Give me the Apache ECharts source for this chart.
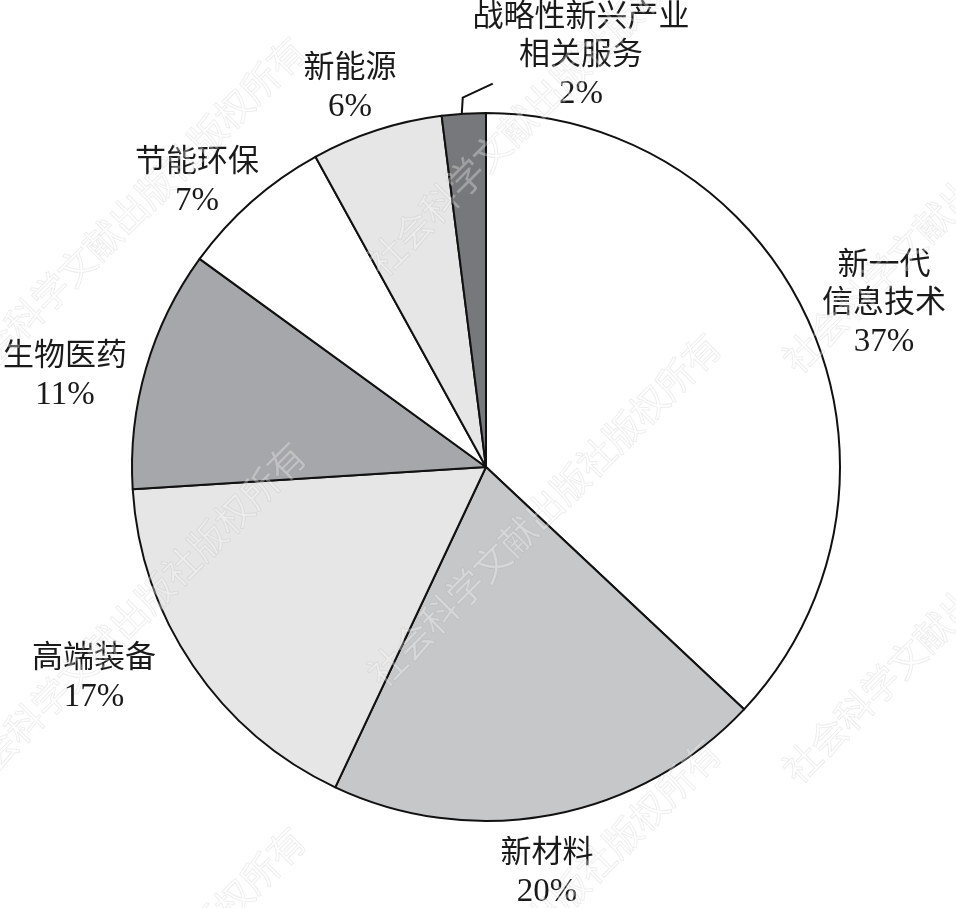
<!DOCTYPE html>
<html>
<head>
<meta charset="utf-8">
<script src="https://cdn.jsdelivr.net/npm/echarts@6/dist/echarts.min.js"></script>
<style>
  html, body { margin: 0; padding: 0; background: #fff; }
  #main { width: 956px; height: 908px; }
</style>
</head>
<body>
<div id="main"></div>
<script>
// 各产业占比（%）
const names = ['新一代\n信息技术', '新材料', '高端装备', '生物医药', '节能环保', '新能源', '战略性新兴产业\n相关服务']
const values = [37, 20, 17, 11, 7, 6, 2]
const colors = ['#ffffff', '#c6c7c9', '#e6e6e7', '#a6a7aa', '#ffffff', '#e6e6e7', '#77787b']

// 标签中心位置（版式）
const labelPos = [[884, 304], [547, 873], [94, 678], [65, 376], [197, 182], [350, 88], [581, 56]]

// 水印起点
const markPos = [[-25, 400], [-25, 805], [-25, 1190], [390, 285], [390, 696], [390, 1102], [805, -28], [805, 382], [805, 792]]

const font = '"Liberation Serif", "Noto Sans CJK SC", serif'

const myChart = echarts.init(document.getElementById('main'))

myChart.setOption({
  animation: false,
  backgroundColor: '#fff',
  graphic: markPos.map(p => ({
    type: 'text',
    x: p[0],
    y: p[1],
    rotation: Math.PI / 4,
    z: 100,
    silent: true,
    style: {
      text: '社会科学文献出版社版权所有',
      fontSize: 37,
      fontFamily: font,
      fill: 'rgba(255,255,255,0.3)',
      stroke: 'rgba(120,120,120,0.15)',
      lineWidth: 1,
      align: 'left',
      verticalAlign: 'bottom'
    }
  })),
  series: [
    {
      type: 'pie',
      center: [486, 467],
      radius: 354,
      startAngle: 90,
      clockwise: true,
      data: values.map((v, i) => ({
        name: names[i],
        value: v,
        itemStyle: { color: colors[i] },
        labelLine: { show: i === 6 }
      })),
      itemStyle: { borderColor: '#111', borderWidth: 2 },
      label: {
        position: 'outside',
        formatter: '{b}\n{p|{c}%}',
        fontFamily: font,
        fontSize: 31,
        lineHeight: 38,
        color: '#1a1a1a',
        align: 'center',
        overflow: 'none',
        width: 300,
        rich: {
          p: { fontFamily: font, fontSize: 33, lineHeight: 38, color: '#1a1a1a' }
        }
      },
      labelLine: {
        length: 14,
        length2: 30,
        lineStyle: { color: '#111', width: 2 }
      },
      labelLayout: params => {
        const p = labelPos[params.dataIndex]
        const out = { x: p[0], y: p[1], align: 'center', verticalAlign: 'middle' }
        if (params.dataIndex === 6 && params.labelLinePoints) {
          const a = params.labelLinePoints[0]
          out.labelLinePoints = [[a[0] - 2, a[1]], [a[0] - 1, a[1] - 16], [a[0] + 29, a[1] - 30]]
        }
        return out
      }
    }
  ]
})
</script>
</body>
</html>
